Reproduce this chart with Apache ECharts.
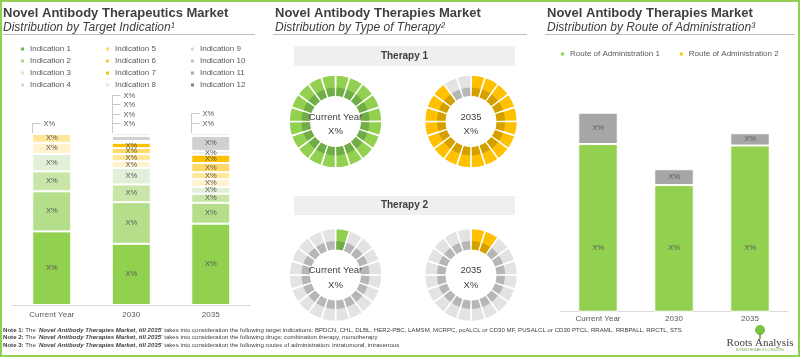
<!DOCTYPE html>
<html><head><meta charset="utf-8">
<script src="https://cdn.jsdelivr.net/npm/echarts@6/dist/echarts.min.js"></script>
<style>html,body{margin:0;padding:0;background:#fff}#c{width:800px;height:357px}</style>
</head><body><div id="c"></div>
<script>
// ---------- DATA ----------
const categories = ['Current Year', '2030', '2035'];
const indicationNames = ['Indication 1','Indication 2','Indication 3','Indication 4','Indication 5','Indication 6',
  'Indication 7','Indication 8','Indication 9','Indication 10','Indication 11','Indication 12'];
const indication1  = [42.8, 35.6, 47.3];
const indication2  = [23.3, 24.2, 12.1];
const indication3  = [11.6, 10.3, 5.3];
const indication4  = [10.1, 9.6, 4.0];
const indication5  = [6.5, 3.9, 4.4];
const indication6  = [5.1, 4.2, 4.1];
const indication7  = [0.6, 3.4, 5.4];
const indication8  = [0, 3.1, 4.8];
const indication9  = [0, 1.0, 2.2];
const indication10 = [0, 3.0, 8.7];
const indication11 = [0, 1.5, 1.5];
const indication12 = [0, 0.2, 0.2];
const outsideLabelCounts = [1, 4, 2];
const valueLabel = 'X%';

const therapyYears = ['Current Year', '2035'];
const donutSegments = 20;
const therapy1Filled = [20, 18];
const therapy2Filled = [1, 2];

const routeNames = ['Route of Administration 1', 'Route of Administration 2'];
const route1 = [79.2, 59.8, 78.5];
const route2 = [14.8, 7.5, 5.8];

const notes = [
  ['Note 1:', 'target indications: BPDCN, CHL, DLBL, HER2-PBC, LAMSM, MCRPC, pcALCL or CD30 MF, PUSALCL or CD30 PTCL, RRAML, RRBPALL, RRCTL, STS'],
  ['Note 2:', 'drugs: combination therapy, monotherapy'],
  ['Note 3:', 'routes of administration: intratumoral, intravenous']
];

// ---------- STYLE ----------
const FONT = '"Liberation Sans", Arial, Helvetica, sans-serif';
const TXT = '#404040', LBL = '#595959';
const barColors = ['#92d050','#b5de8a','#c9e6a8','#e2f0d9','#fff2cc','#ffe699','#ffd966','#ffc000','#efefef','#d0d0d0','#e3e3e3','#bfbfbf'];
const legendColors = ['#6fbb3c','#a6d883','#d3ecbf','#d9d9d9','#ffd966','#ffca2c','#ffc000','#e3e3e3','#d9d9d9','#c0c0c0','#a6a6a6','#808080'];

const indicationValues = [indication1, indication2, indication3, indication4, indication5, indication6,
  indication7, indication8, indication9, indication10, indication11, indication12];
const totals = categories.map((_, i) => indicationValues.reduce((s, a) => s + a[i], 0));
const nonZeroCounts = categories.map((_, i) => indicationValues.filter(a => a[i] > 0).length);

const series = [];
indicationValues.forEach((vals, k) => {
  series.push({
    name: indicationNames[k], type: 'bar', stack: 'ind', xAxisIndex: 0, yAxisIndex: 0,
    barWidth: 39, silent: true, animation: false,
    itemStyle: { color: barColors[k], borderColor: '#fff', borderWidth: 1 },
    data: vals.map((v, i) => v > 0 ? { value: v, label: { show: k < nonZeroCounts[i] - outsideLabelCounts[i] } } : '-'),
    label: { position: 'inside', formatter: valueLabel, color: LBL, fontSize: 7.5, fontFamily: FONT }
  });
});
// outside leader labels
series.push({
  type: 'custom', xAxisIndex: 0, yAxisIndex: 0, silent: true, animation: false, z: 5,
  data: categories.map((c, i) => [i, totals[i], outsideLabelCounts[i]]),
  renderItem(params, api) {
    const top = api.coord([api.value(0), api.value(1)]);
    const left = Math.round(top[0] - 19.5) + 0.5;
    const n = api.value(2);
    const ys = [];
    for (let k = 0; k < n; k++) ys.push(Math.round(top[1] - 10 - k * 9.5) + 0.5);
    const children = [{ type: 'line', shape: { x1: left, y1: top[1], x2: left, y2: ys[n - 1] }, style: { stroke: '#c8c8c8', lineWidth: 1 } }];
    ys.forEach(y => {
      children.push({ type: 'line', shape: { x1: left, y1: y, x2: left + 8, y2: y }, style: { stroke: '#c8c8c8', lineWidth: 1 } });
      children.push({ type: 'text', style: { text: valueLabel, x: left + 11, y: y, verticalAlign: 'middle', fill: LBL, font: '7.5px ' + FONT } });
    });
    return { type: 'group', children };
  }
});

// route bars
series.push({
  name: routeNames[0], type: 'bar', stack: 'route', xAxisIndex: 1, yAxisIndex: 1, barWidth: 39.5,
  silent: true, animation: false, data: route1,
  itemStyle: { color: '#92d050', borderColor: '#fff', borderWidth: 1 },
  label: { show: true, position: 'insideBottom', distance: 60, formatter: valueLabel, color: LBL, fontSize: 7.5, fontFamily: FONT }
});
series.push({
  name: routeNames[1], type: 'bar', stack: 'route', xAxisIndex: 1, yAxisIndex: 1, barWidth: 39.5,
  silent: true, animation: false, data: route2,
  itemStyle: { color: '#a6a6a6', borderColor: '#fff', borderWidth: 1 },
  label: { show: true, position: 'inside', formatter: valueLabel, color: LBL, fontSize: 7.5, fontFamily: FONT }
});

// donuts
const donutCentersX = [335.5, 471];
const donutCentersY = [121.5, 275];
const palettes = [
  { light: '#92d050', dark: '#70ad47' },
  { light: '#ffc000', dark: '#d4a000' }
];
const grayLight = '#e3e3e3', grayDark = '#b6b6b6';
[therapy1Filled, therapy2Filled].forEach((filledArr, row) => {
  filledArr.forEach((filled, col) => {
    const pal = palettes[col];
    const mk = (tone) => Array.from({ length: donutSegments }, (_, s) => ({
      value: 1,
      itemStyle: { color: s < filled ? pal[tone] : (tone === 'light' ? grayLight : grayDark) }
    }));
    const base = {
      type: 'pie', center: [donutCentersX[col], donutCentersY[row]], startAngle: 90, clockwise: true,
      silent: true, animation: false, label: { show: false }, labelLine: { show: false },
      emphasis: { disabled: true }
    };
    series.push(Object.assign({}, base, { radius: [25, 46.5], data: mk('light'), itemStyle: { borderColor: '#fff', borderWidth: 1.6 } }));
    series.push(Object.assign({}, base, { radius: [25.5, 34], padAngle: 3.1, data: mk('dark'), z: 3 }));
  });
});

// ---------- GRAPHIC (titles, notes) ----------
const graphic = [];
const panels = [
  { x: 3, line: [3, 255], title: 'Novel Antibody Therapeutics Market', sub: 'Distribution by Target Indication¹' },
  { x: 275, line: [273, 527], title: 'Novel Antibody Therapies Market', sub: 'Distribution by Type of Therapy²' },
  { x: 547, line: [545, 795], title: 'Novel Antibody Therapies Market', sub: 'Distribution by Route of Administration³' }
];
panels.forEach(p => {
  graphic.push({ type: 'text', x: p.x, y: 13.5, silent: true, style: { text: p.title, font: 'bold 13px ' + FONT, fill: TXT, verticalAlign: 'middle' } });
  graphic.push({ type: 'text', x: p.x, y: 27.5, silent: true, style: { text: p.sub, font: 'italic 12px ' + FONT, fill: TXT, verticalAlign: 'middle' } });
  graphic.push({ type: 'line', silent: true, shape: { x1: p.line[0], y1: 34.5, x2: p.line[1], y2: 34.5 }, style: { stroke: '#bfbfbf', lineWidth: 1 } });
});
// therapy boxes
[['Therapy 1', 46.5], ['Therapy 2', 196]].forEach(([t, y]) => {
  graphic.push({ type: 'rect', silent: true, shape: { x: 294, y: y, width: 221, height: 19 }, style: { fill: '#efefef' } });
  graphic.push({ type: 'text', silent: true, x: 404.5, y: y + 9.5, style: { text: t, font: 'bold 10px ' + FONT, fill: TXT, align: 'center', verticalAlign: 'middle' } });
});
donutCentersY.forEach(cy => {
  donutCentersX.forEach((cx, col) => {
    graphic.push({ type: 'text', silent: true, x: cx, y: cy - 4.5, z: 10, style: { text: therapyYears[col], font: '9.5px ' + FONT, fill: TXT, align: 'center', verticalAlign: 'middle' } });
    graphic.push({ type: 'text', silent: true, x: cx, y: cy + 10, z: 10, style: { text: valueLabel, font: '9.5px ' + FONT, fill: TXT, align: 'center', verticalAlign: 'middle' } });
  });
});
// notes
const noteFs = 6.1;
const noteYs = [330.5, 337.8, 345];
notes.forEach((n, i) => {
  graphic.push({
    type: 'text', silent: true, x: 3, y: noteYs[i],
    style: {
      text: '{b|' + n[0] + '} The ‘{bi|Novel Antibody Therapies Market, till 2035}’ takes into consideration the following ' + n[1],
      font: noteFs + 'px ' + FONT, fill: TXT, verticalAlign: 'middle',
      rich: { b: { fontWeight: 'bold', fontSize: noteFs, fontFamily: FONT, fill: TXT },
              bi: { fontWeight: 'bold', fontStyle: 'italic', fontSize: noteFs, fontFamily: FONT, fill: TXT } }
    }
  });
});
// logo
graphic.push({ type: 'circle', silent: true, shape: { cx: 760, cy: 330, r: 5 }, style: { fill: '#7cc142' } });
graphic.push({ type: 'rect', silent: true, shape: { x: 759.3, y: 333, width: 1.4, height: 6 }, style: { fill: '#6b8e3a' } });
graphic.push({ type: 'text', silent: true, x: 760, y: 343, style: { text: 'Roots Analysis', font: '11px "Liberation Serif", "DejaVu Serif", serif', fill: TXT, align: 'center', verticalAlign: 'middle' } });
graphic.push({ type: 'text', silent: true, x: 760, y: 350, style: { text: 'BUSINESS RESEARCH & CONSULTING', font: '2.6px ' + FONT, fill: '#6aa84f', align: 'center', verticalAlign: 'middle' } });
// border
graphic.push({ type: 'rect', silent: true, z: 100, shape: { x: 1, y: 1, width: 798, height: 355 }, style: { fill: null, stroke: '#92d050', lineWidth: 2 } });

// ---------- LEGENDS ----------
const legendLefts = [19, 104, 189];
const legends = legendLefts.map((lx, col) => ({
  orient: 'vertical', left: lx, top: 44.5, itemWidth: 5, itemHeight: 5, itemGap: 3, icon: 'rect',
  selectedMode: false, padding: 0,
  textStyle: { fontSize: 8, color: LBL, fontFamily: FONT, lineHeight: 9 },
  data: indicationNames.slice(col * 4, col * 4 + 4).map((n, k) => ({ name: n, itemStyle: { color: legendColors[col * 4 + k] } }))
}));
legends.push({
  orient: 'horizontal', left: 559, top: 49.5, itemWidth: 5, itemHeight: 5, itemGap: 18, icon: 'rect',
  selectedMode: false, padding: 0,
  textStyle: { fontSize: 8, color: LBL, fontFamily: FONT, lineHeight: 9 },
  data: [{ name: routeNames[0], itemStyle: { color: '#92d050' } }, { name: routeNames[1], itemStyle: { color: '#ffc000' } }]
});

const axisCommon = {
  type: 'category', data: categories,
  axisLine: { lineStyle: { color: '#d9d9d9', width: 1 } }, axisTick: { show: false },
  axisLabel: { color: LBL, fontSize: 8, fontFamily: FONT }
};

const option = {
  backgroundColor: '#fff',
  animation: false,
  textStyle: { fontFamily: FONT },
  legend: legends,
  grid: [
    { left: 12, top: 133, width: 238.5, height: 172 },
    { left: 560, top: 100, width: 228, height: 211.7 }
  ],
  xAxis: [
    Object.assign({}, axisCommon, { gridIndex: 0, axisLabel: Object.assign({}, axisCommon.axisLabel, { margin: 6 }) }),
    Object.assign({}, axisCommon, { gridIndex: 1, axisLabel: Object.assign({}, axisCommon.axisLabel, { margin: 3.5 }) })
  ],
  yAxis: [
    { gridIndex: 0, type: 'value', min: 0, max: 100, show: false },
    { gridIndex: 1, type: 'value', min: 0, max: 100, show: false }
  ],
  graphic: graphic,
  series: series
};
const chart = echarts.init(document.getElementById('c'));
chart.setOption(option);
</script></body></html>
